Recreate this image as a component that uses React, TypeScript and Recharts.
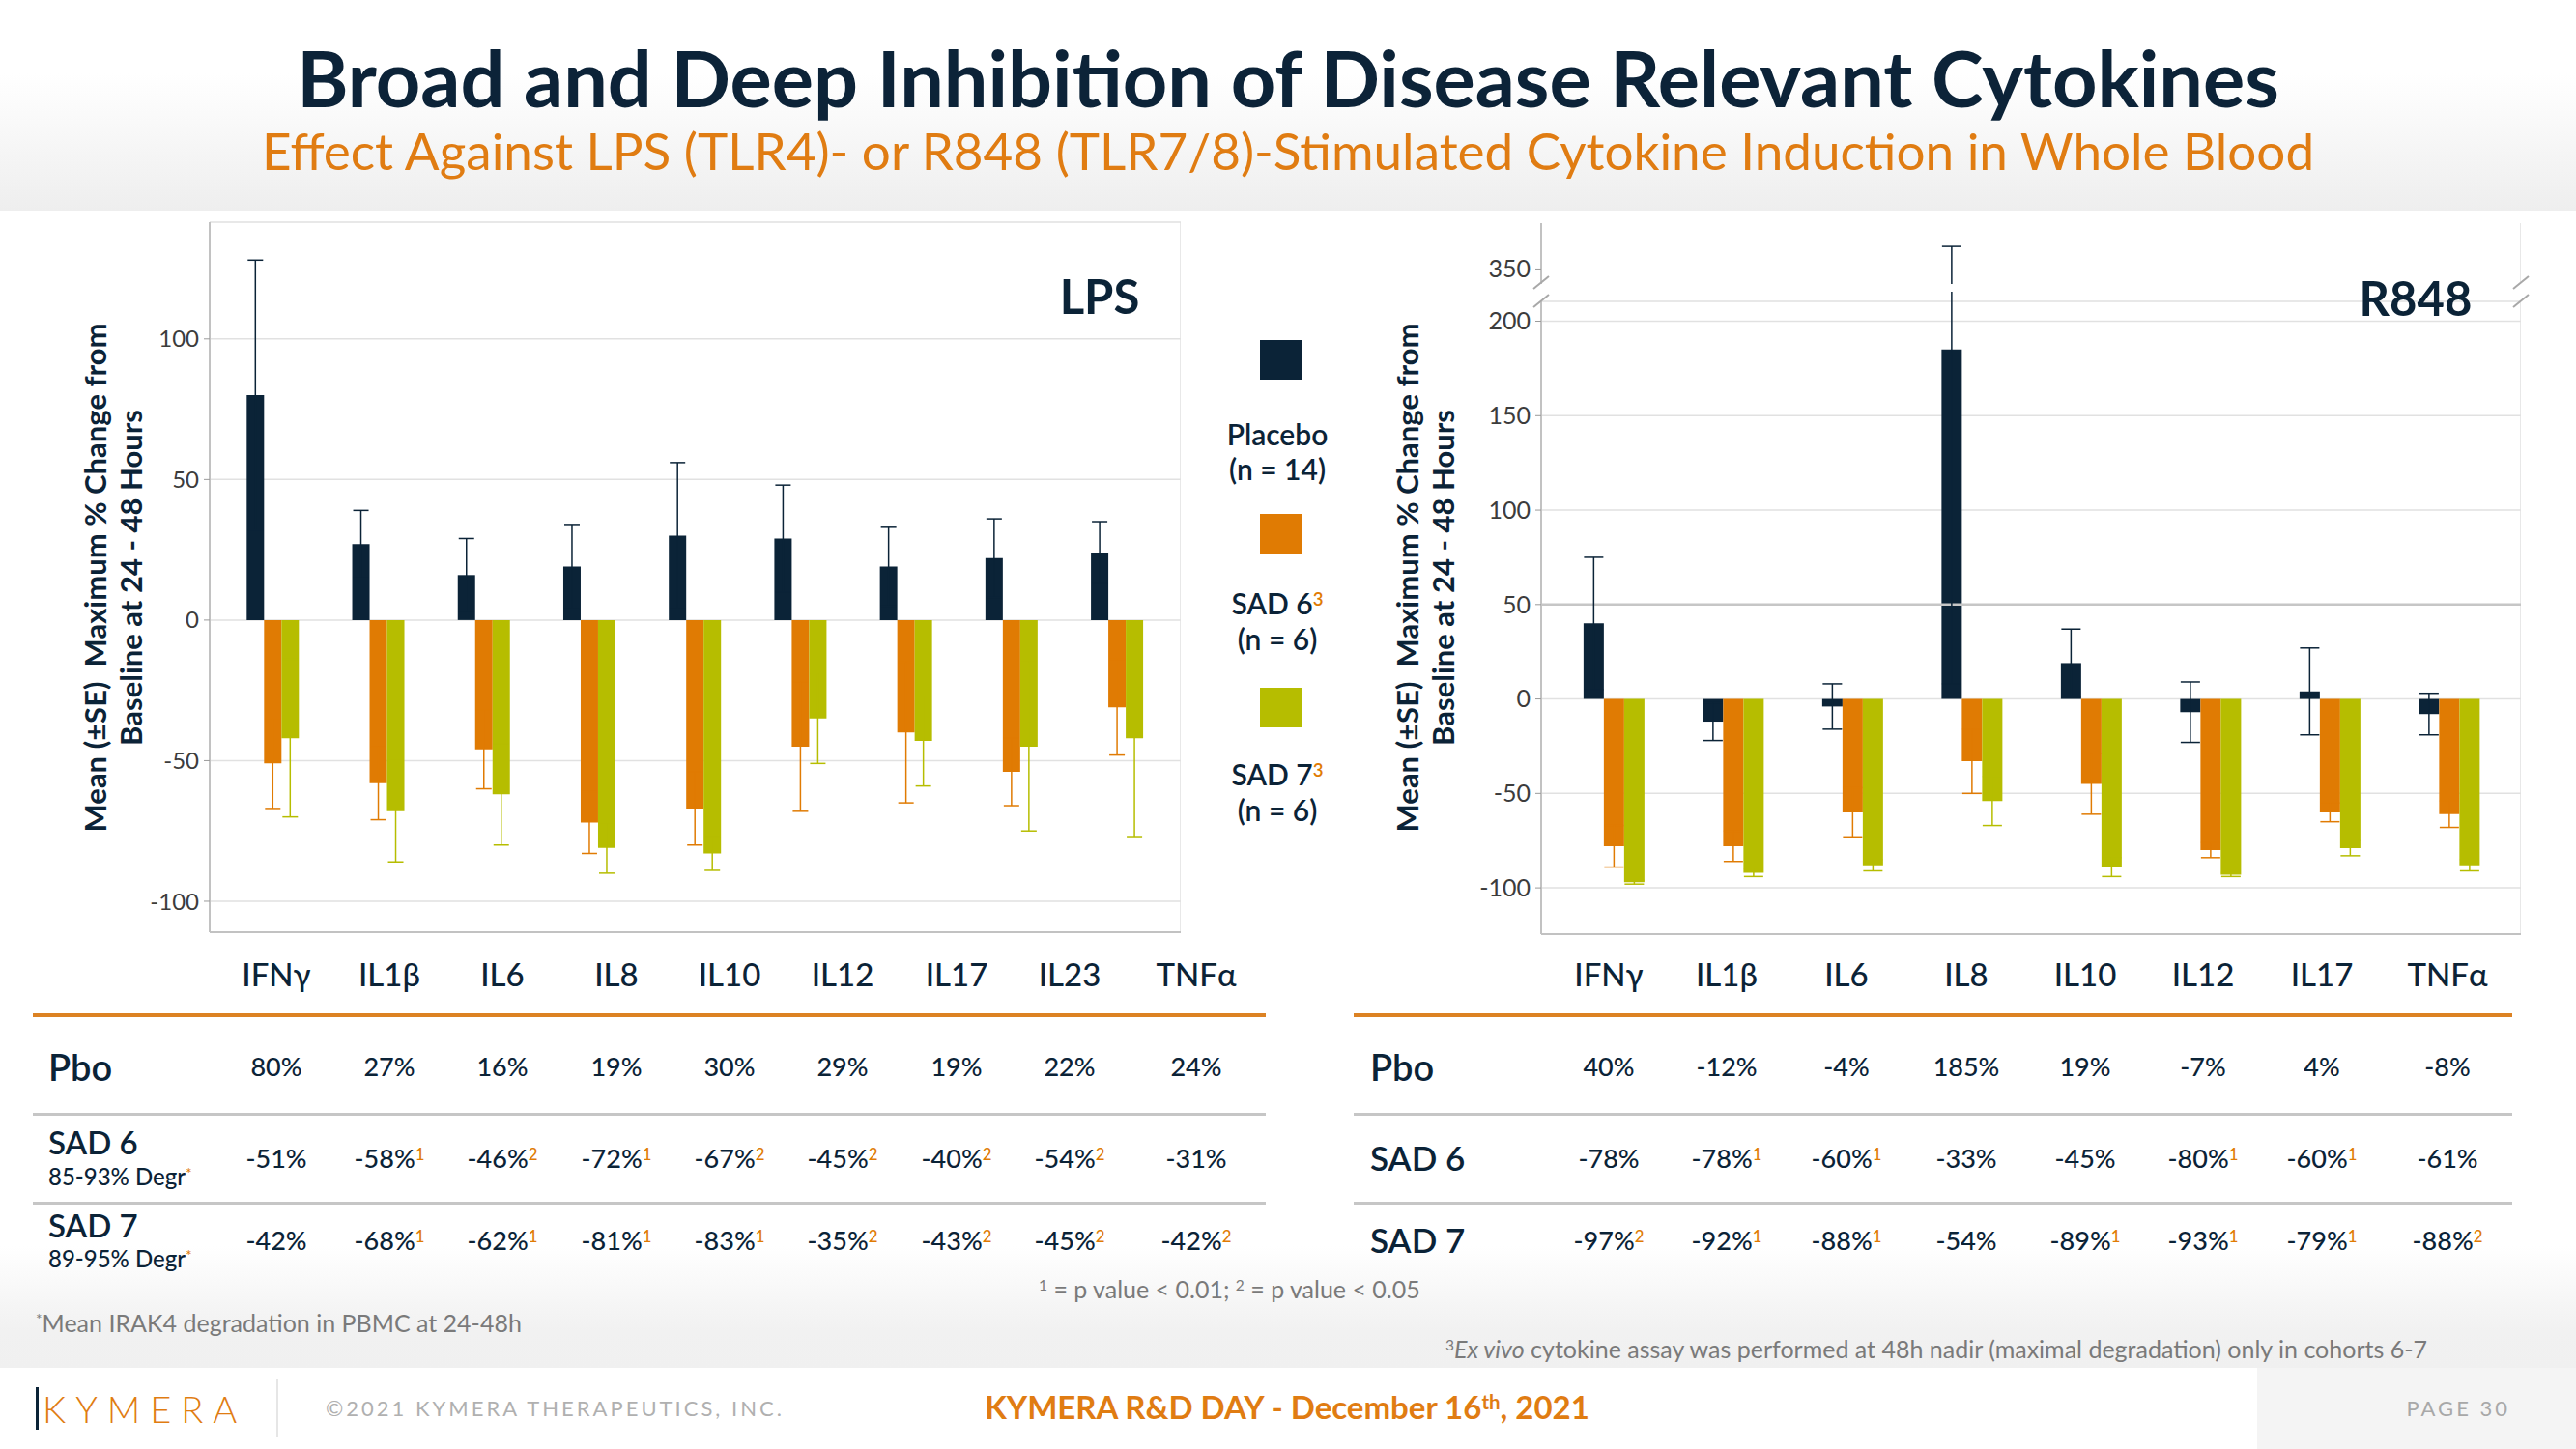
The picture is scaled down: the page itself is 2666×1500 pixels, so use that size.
import React from "react";
import {
  BarChart,
  Bar,
  XAxis,
  YAxis,
  CartesianGrid,
  ErrorBar,
  ReferenceLine,
} from "recharts";

// ---- data ----
const lpsCytokines = ["IFNγ", "IL1β", "IL6", "IL8", "IL10", "IL12", "IL17", "IL23", "TNFα"];
const lpsPlacebo = [80, 27, 16, 19, 30, 29, 19, 22, 24];
const lpsPlaceboSE = [48, 12, 13, 15, 26, 19, 14, 14, 11];
const lpsSad6 = [-51, -58, -46, -72, -67, -45, -40, -54, -31];
const lpsSad6SE = [16, 13, 14, 11, 13, 23, 25, 12, 17];
const lpsSad7 = [-42, -68, -62, -81, -83, -35, -43, -45, -42];
const lpsSad7SE = [28, 18, 18, 9, 6, 16, 16, 30, 35];
const lpsSad6Sig = [0, 1, 2, 1, 2, 2, 2, 2, 0];
const lpsSad7Sig = [0, 1, 1, 1, 1, 2, 2, 2, 2];

const r848Cytokines = ["IFNγ", "IL1β", "IL6", "IL8", "IL10", "IL12", "IL17", "TNFα"];
const r848Placebo = [40, -12, -4, 185, 19, -7, 4, -8];
const r848PlaceboSE = [35, 10, 12, 177, 18, 16, 23, 11];
const r848Sad6 = [-78, -78, -60, -33, -45, -80, -60, -61];
const r848Sad6SE = [11, 8, 13, 17, 16, 4, 5, 7];
const r848Sad7 = [-97, -92, -88, -54, -89, -93, -79, -88];
const r848Sad7SE = [1, 2, 3, 13, 5, 1, 4, 3];
const r848Sad6Sig = [0, 1, 1, 0, 0, 1, 1, 0];
const r848Sad7Sig = [2, 1, 1, 0, 1, 1, 1, 2];

const lpsTicks = [-100, -50, 0, 50, 100];
const r848Ticks = [-100, -50, 0, 50, 100, 150, 200];
const r848UpperTicks = [350];

const NAVY = "#0b2337";
const ORANGE = "#e07b03";
const GREEN = "#b6bd00";
const GRID = "#e1e1e1";
const FRAME = "#c2c2c2";

const series = [
  { key: "placebo", label: "Placebo", n: 14, sup: "", color: NAVY },
  { key: "sad6", label: "SAD 6", n: 6, sup: "3", color: ORANGE },
  { key: "sad7", label: "SAD 7", n: 6, sup: "3", color: GREEN },
];

const lpsData = lpsCytokines.map((name, i) => ({
  name,
  placebo: lpsPlacebo[i],
  placeboSE: lpsPlaceboSE[i],
  sad6: lpsSad6[i],
  sad6SE: lpsSad6SE[i],
  sad7: lpsSad7[i],
  sad7SE: lpsSad7SE[i],
}));

const r848Data = r848Cytokines.map((name, i) => ({
  name,
  placebo: r848Placebo[i],
  placeboSE: r848PlaceboSE[i],
  sad6: r848Sad6[i],
  sad6SE: r848Sad6SE[i],
  sad7: r848Sad7[i],
  sad7SE: r848Sad7SE[i],
}));

// ---- layout helpers ----
const Txt = ({ x, y, size, color = NAVY, weight = 400, align = "center", style = {}, children }: any) => (
  <div
    style={{
      position: "absolute",
      left: x,
      top: y,
      fontSize: size,
      fontWeight: weight,
      color,
      lineHeight: 1,
      whiteSpace: "nowrap",
      transform: `translate(${align === "center" ? "-50%" : align === "right" ? "-100%" : "0"}, -50%)`,
      ...style,
    }}
  >
    {children}
  </div>
);

const Sup = ({ children, color = ORANGE }: any) => (
  <span style={{ color, fontSize: "0.62em", position: "relative", top: "-0.5em" }}>{children}</span>
);

const pct = (v: number) => `${v}%`;

const bars = (capWidth: number) =>
  series.map((s) => (
    <Bar key={s.key} dataKey={s.key} fill={s.color} isAnimationActive={false}>
      <ErrorBar
        dataKey={`${s.key}SE`}
        direction="y"
        width={capWidth}
        stroke={s.color}
        strokeWidth={1.5}
        isAnimationActive={false}
      />
    </Bar>
  ));

const tickStyle = { fill: "#3c3c3c", fontSize: 24, fontFamily: "Lato" };

const LpsChart = () => (
  <BarChart
    width={1102}
    height={765}
    data={lpsData}
    margin={{ top: 10, right: 0, bottom: 0, left: 0 }}
    barGap={0}
    barCategoryGap="25%"
  >
    <CartesianGrid stroke={GRID} strokeWidth={1.5} />
    <XAxis
      dataKey="name"
      padding={{ left: 11, right: 11 }}
      height={20}
      tick={false}
      tickSize={6}
      tickLine={{ stroke: FRAME }}
      axisLine={{ stroke: FRAME, strokeWidth: 2 }}
    />
    <XAxis
      xAxisId="top"
      orientation="top"
      dataKey="name"
      padding={{ left: 11, right: 11 }}
      height={0}
      tick={false}
      tickLine={false}
      axisLine={{ stroke: FRAME, strokeWidth: 2 }}
    />
    <YAxis
      width={97}
      domain={[-111, 141.5]}
      ticks={lpsTicks}
      interval={0}
      allowDataOverflow
      tick={tickStyle}
      tickSize={6}
      tickMargin={5}
      tickLine={{ stroke: "#9a9a9a" }}
      axisLine={{ stroke: FRAME, strokeWidth: 2 }}
    />
    <YAxis
      yAxisId="right"
      orientation="right"
      width={0}
      domain={[0, 1]}
      tick={false}
      tickLine={false}
      axisLine={{ stroke: FRAME, strokeWidth: 2 }}
    />
    {bars(8)}
  </BarChart>
);

const R848Upper = () => (
  <BarChart
    width={1109}
    height={74}
    data={r848Data}
    margin={{ top: 11, right: 0, bottom: 0, left: 0 }}
    barGap={0}
    barCategoryGap="25%"
  >
    <CartesianGrid stroke={GRID} strokeWidth={1.5} horizontal={false} />
    <XAxis
      orientation="top"
      dataKey="name"
      padding={{ left: 13, right: 13 }}
      height={0}
      tick={false}
      tickLine={false}
      axisLine={{ stroke: FRAME, strokeWidth: 2 }}
    />
    <YAxis
      width={95}
      domain={[342, 374.4]}
      ticks={r848UpperTicks}
      interval={0}
      allowDataOverflow
      tick={{ ...tickStyle, fontSize: 25 }}
      tickSize={6}
      tickMargin={5}
      tickLine={{ stroke: "#9a9a9a" }}
      axisLine={{ stroke: FRAME, strokeWidth: 2 }}
    />
    <YAxis
      yAxisId="right"
      orientation="right"
      width={0}
      domain={[0, 1]}
      tick={false}
      tickLine={false}
      axisLine={{ stroke: FRAME, strokeWidth: 2 }}
    />
    {bars(10)}
  </BarChart>
);

const R848Lower = () => (
  <BarChart
    width={1109}
    height={685}
    data={r848Data}
    margin={{ top: 10, right: 0, bottom: 0, left: 0 }}
    barGap={0}
    barCategoryGap="25%"
  >
    <CartesianGrid stroke={GRID} strokeWidth={1.5} />
    <XAxis
      dataKey="name"
      padding={{ left: 13, right: 13 }}
      height={20}
      tick={false}
      tickSize={6}
      tickLine={{ stroke: FRAME }}
      axisLine={{ stroke: FRAME, strokeWidth: 2 }}
    />
    <YAxis
      width={95}
      domain={[-124.5, 210.5]}
      ticks={r848Ticks}
      interval={0}
      allowDataOverflow
      tick={{ ...tickStyle, fontSize: 25 }}
      tickSize={6}
      tickMargin={5}
      tickLine={{ stroke: "#9a9a9a" }}
      axisLine={{ stroke: FRAME, strokeWidth: 2 }}
    />
    <YAxis
      yAxisId="right"
      orientation="right"
      width={0}
      domain={[0, 1]}
      tick={false}
      tickLine={false}
      axisLine={{ stroke: FRAME, strokeWidth: 2 }}
    />
    <ReferenceLine y={50} stroke="#c6c6c6" strokeWidth={2.5} />
    {bars(10)}
  </BarChart>
);

// table column centres (layout only)
const lpsCols = [286, 403, 520, 638, 755, 872, 990, 1107, 1238];
const r848Cols = [1665, 1787, 1911, 2035, 2158, 2280, 2403, 2533];

const Table = ({ cats, cols, pbo, sad6, sad6Sig, sad7, sad7Sig, x0, x1, labelX, degr }: any) => (
  <>
    {cats.map((c: string, i: number) => (
      <Txt key={"h" + i} x={cols[i]} y={1008} size={33} weight={500}>
        {c}
      </Txt>
    ))}
    <div style={{ position: "absolute", left: x0, width: x1 - x0, top: 1049, height: 4, background: "#dc8223" }} />
    <div style={{ position: "absolute", left: x0, width: x1 - x0, top: 1152, height: 3, background: "#c6c6c6" }} />
    <div style={{ position: "absolute", left: x0, width: x1 - x0, top: 1244, height: 3, background: "#c6c6c6" }} />
    <Txt x={labelX} y={1104} size={38} weight={600} align="left">Pbo</Txt>
    {degr ? (
      <>
        <Txt x={labelX} y={1182} size={33} weight={600} align="left">SAD 6</Txt>
        <Txt x={labelX} y={1218} size={24} weight={500} align="left">
          85-93% Degr<Sup>*</Sup>
        </Txt>
        <Txt x={labelX} y={1268} size={33} weight={600} align="left">SAD 7</Txt>
        <Txt x={labelX} y={1303} size={24} weight={500} align="left">
          89-95% Degr<Sup>*</Sup>
        </Txt>
      </>
    ) : (
      <>
        <Txt x={labelX} y={1198} size={35} weight={600} align="left">SAD 6</Txt>
        <Txt x={labelX} y={1283} size={35} weight={600} align="left">SAD 7</Txt>
      </>
    )}
    {cats.map((c: string, i: number) => (
      <React.Fragment key={"v" + i}>
        <Txt x={cols[i]} y={1103} size={27} weight={500}>{pct(pbo[i])}</Txt>
        <Txt x={cols[i]} y={1198} size={27} weight={500}>
          {pct(sad6[i])}
          {sad6Sig[i] ? <Sup>{sad6Sig[i]}</Sup> : null}
        </Txt>
        <Txt x={cols[i]} y={1283} size={27} weight={500}>
          {pct(sad7[i])}
          {sad7Sig[i] ? <Sup>{sad7Sig[i]}</Sup> : null}
        </Txt>
      </React.Fragment>
    ))}
  </>
);

const legendSquares = [352, 532, 712];
const legendLine1 = [449, 624, 801];
const legendLine2 = [485, 661, 838];

export default function App() {
  return (
    <div
      style={{
        position: "absolute",
        left: 0,
        top: 0,
        width: 2666,
        height: 1500,
        overflow: "hidden",
        background: "#ffffff",
        fontFamily: "Lato, 'Open Sans', sans-serif",
        color: NAVY,
      }}
    >
      {/* header band */}
      <div
        style={{
          position: "absolute",
          left: 0,
          top: 0,
          width: 2666,
          height: 218,
          background: "linear-gradient(to bottom, #ffffff 35%, #eeeeee 100%)",
        }}
      />
      {/* footnote band */}
      <div
        style={{
          position: "absolute",
          left: 0,
          top: 1290,
          width: 2666,
          height: 126,
          background: "linear-gradient(to bottom, #ffffff 0%, #f1f1f1 70%, #f0f0f0 100%)",
        }}
      />
      <div style={{ position: "absolute", left: 2336, top: 1416, width: 330, height: 84, background: "#f4f4f4" }} />

      <Txt x={1333} y={79} size={81} weight={700} color="#0c2338">
        Broad and Deep Inhibition of Disease Relevant Cytokines
      </Txt>
      <Txt x={1333} y={155} size={53} weight={400} color="#e07c12">
        Effect Against LPS (TLR4)- or R848 (TLR7/8)-Stimulated Cytokine Induction in Whole Blood
      </Txt>

      {/* y-axis titles */}
      {[117, 1475].map((cx) => (
        <div
          key={cx}
          style={{
            position: "absolute",
            left: cx,
            top: 598,
            transform: "translate(-50%, -50%) rotate(-90deg)",
            fontSize: 31,
            fontWeight: 700,
            lineHeight: "37px",
            textAlign: "center",
            whiteSpace: "nowrap",
            color: NAVY,
          }}
        >
          Mean (±SE)&nbsp; Maximum % Change from
          <br />
          Baseline at 24 - 48 Hours
        </div>
      ))}

      <div style={{ position: "absolute", left: 120, top: 220 }}>
        <LpsChart />
      </div>
      <div style={{ position: "absolute", left: 1500, top: 220 }}>
        <R848Upper />
      </div>
      <div style={{ position: "absolute", left: 1500, top: 302 }}>
        <R848Lower />
      </div>

      {/* axis break marks */}
      <svg style={{ position: "absolute", left: 0, top: 0 }} width={2666} height={400}>
        {[1595, 2609].map((ax) => (
          <g key={ax} stroke="#a8a8a8" strokeWidth={2}>
            <line x1={ax - 8} y1={299} x2={ax + 8} y2={286} />
            <line x1={ax - 8} y1={318} x2={ax + 8} y2={305} />
          </g>
        ))}
      </svg>

      <Txt x={1138} y={306} size={49} weight={700}>LPS</Txt>
      <Txt x={2500} y={308} size={49} weight={700}>R848</Txt>

      {/* legend */}
      {series.map((s, i) => (
        <React.Fragment key={s.key}>
          <div
            style={{
              position: "absolute",
              left: 1304,
              top: legendSquares[i],
              width: 44,
              height: 41,
              background: s.color,
            }}
          />
          <Txt x={1322} y={legendLine1[i]} size={30} weight={600}>
            {s.label}
            {s.sup ? <Sup>{s.sup}</Sup> : null}
          </Txt>
          <Txt x={1322} y={legendLine2[i]} size={30} weight={600}>
            (n = {s.n})
          </Txt>
        </React.Fragment>
      ))}

      <Table
        cats={lpsCytokines}
        cols={lpsCols}
        pbo={lpsPlacebo}
        sad6={lpsSad6}
        sad6Sig={lpsSad6Sig}
        sad7={lpsSad7}
        sad7Sig={lpsSad7Sig}
        x0={34}
        x1={1310}
        labelX={50}
        degr
      />
      <Table
        cats={r848Cytokines}
        cols={r848Cols}
        pbo={r848Placebo}
        sad6={r848Sad6}
        sad6Sig={r848Sad6Sig}
        sad7={r848Sad7}
        sad7Sig={r848Sad7Sig}
        x0={1401}
        x1={2600}
        labelX={1418}
      />

      {/* footnotes */}
      <Txt x={1075} y={1334} size={25} color="#7a7a7a" align="left">
        <Sup color="#7a7a7a">1</Sup> = p value &lt; 0.01; <Sup color="#7a7a7a">2</Sup> = p value &lt; 0.05
      </Txt>
      <Txt x={37} y={1369} size={25} color="#7a7a7a" align="left">
        <Sup color="#7a7a7a">*</Sup>Mean IRAK4 degradation in PBMC at 24-48h
      </Txt>
      <Txt x={1496} y={1396} size={25} color="#7a7a7a" align="left">
        <Sup color="#7a7a7a">3</Sup>
        <i>Ex vivo</i> cytokine assay was performed at 48h nadir (maximal degradation) only in cohorts 6-7
      </Txt>

      {/* footer */}
      <div style={{ position: "absolute", left: 286, top: 1428, width: 2, height: 60, background: "#e6e6e6" }} />
      <div style={{ position: "absolute", left: 37, top: 1436, width: 3, height: 44, background: NAVY }} />
      <Txt x={44} y={1458} size={38} weight={300} color="#e07c12" align="left" style={{ letterSpacing: 10 }}>
        KYMERA
      </Txt>
      <Txt x={337} y={1458} size={22} color="#b0b0b0" align="left" style={{ letterSpacing: 3 }}>
        ©2021 KYMERA THERAPEUTICS, INC.
      </Txt>
      <Txt x={1332} y={1456} size={33} weight={700} color="#e07c12">
        KYMERA R&amp;D DAY - December 16<Sup color="#e07c12">th</Sup>, 2021
      </Txt>
      <Txt x={2598} y={1458} size={22} color="#a8a8a8" align="right" style={{ letterSpacing: 3 }}>
        PAGE 30
      </Txt>
    </div>
  );
}
